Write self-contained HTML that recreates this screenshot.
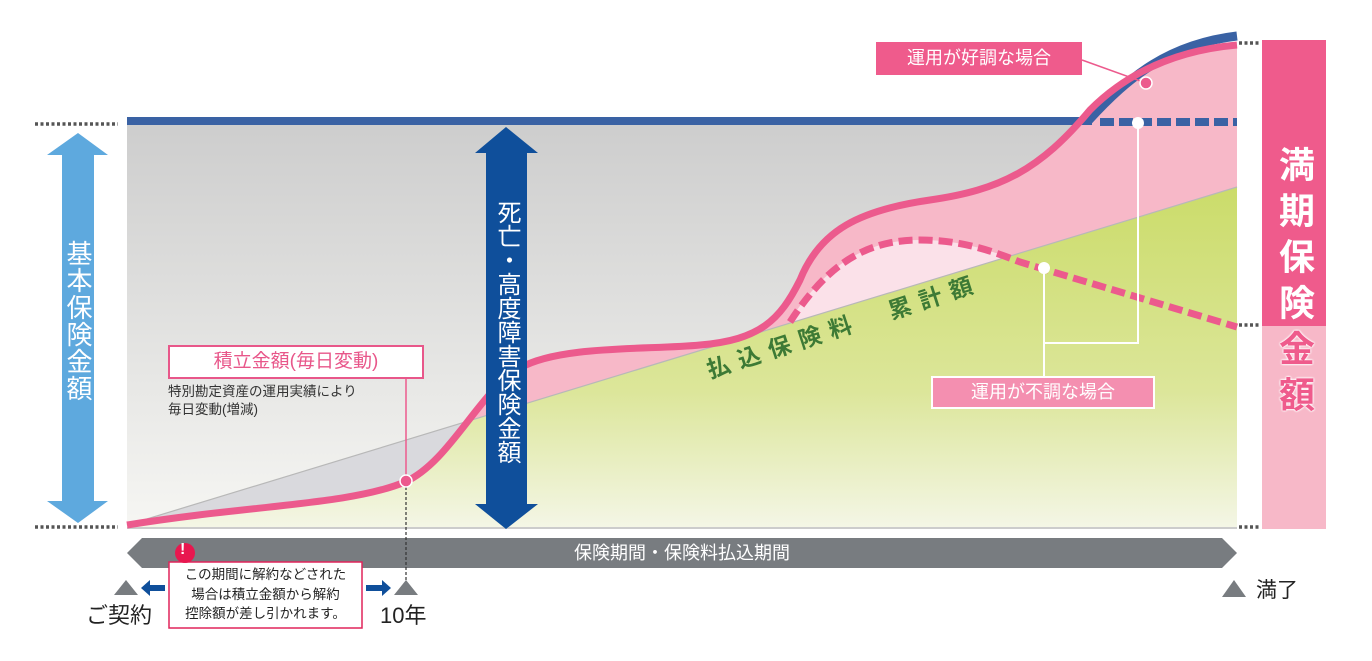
<!DOCTYPE html>
<html><head><meta charset="utf-8"><style>
body{margin:0;background:#fff;}
#w{position:relative;width:1372px;height:661px;overflow:hidden;font-family:"Liberation Sans","Noto Sans CJK JP",sans-serif;}
.t{position:absolute;white-space:nowrap;}
.v{writing-mode:vertical-rl;text-orientation:upright;}
</style></head><body><div id="w">
<svg width="1372" height="661" style="position:absolute;left:0;top:0">
<defs>
<linearGradient id="bg" x1="0" y1="0" x2="0" y2="1"><stop offset="0" stop-color="#cdcdcd"/><stop offset="1" stop-color="#f6f6f3"/></linearGradient>
<linearGradient id="gr" x1="0" y1="0" x2="0" y2="1"><stop offset="0" stop-color="#cbdc6a"/><stop offset="0.6" stop-color="#dce69a"/><stop offset="1" stop-color="#f4f6e6"/></linearGradient>
<clipPath id="below"><path d="M127,525 C250,505 350,505 405,482 C450,462 480,390 520,368 C560,345 650,350 700,345 C760,340 780,320 800,280 C820,230 860,210 930,200 C1000,190 1040,170 1090,110 C1130,70 1180,50 1237,45 L1237,528 L127,528 Z"/></clipPath>
</defs>
<rect x="127" y="120" width="1110" height="408" fill="url(#bg)"/>
<polygon points="127,525 560,393 560,528 127,528" fill="#d9d9dd"/>
<g clip-path="url(#below)">
<rect x="127" y="30" width="1110" height="498" fill="#f7b8c8"/>
<path d="M790,320 C830,260 870,240 920,240 C960,240 990,250 1020,262 L1237,327 L1237,528 L790,528 Z" fill="#fbe1e9"/>
<polygon points="1020,262 1237,327 1237,187" fill="#dcbb88"/>
<polygon points="127,525 1237,187 1237,528 127,528" fill="url(#gr)"/>
</g>
<line x1="127" y1="525" x2="1237" y2="187" stroke="#b8b8b8" stroke-width="1.2"/>
<line x1="127" y1="528" x2="1237" y2="528" stroke="#ccc" stroke-width="2"/>
<line x1="127" y1="121" x2="1092" y2="121" stroke="#3a62a4" stroke-width="8"/>
<path d="M1088,121 C1130,75 1170,44 1237,36" fill="none" stroke="#3a62a4" stroke-width="9"/>
<line x1="1100" y1="122" x2="1237" y2="122" stroke="#3a62a4" stroke-width="8" stroke-dasharray="14,5"/>
<path d="M127,525 C250,505 350,505 405,482 C450,462 480,390 520,368 C560,345 650,350 700,345 C760,340 780,320 800,280 C820,230 860,210 930,200 C1000,190 1040,170 1090,110 C1130,70 1180,50 1237,45" fill="none" stroke="#ec5a8d" stroke-width="7"/>
<path d="M790,322 C830,260 870,240 920,240 C960,240 990,250 1020,262 L1237,327" fill="none" stroke="#ec5a8d" stroke-width="7" stroke-dasharray="14,6"/>
<g stroke="#555" stroke-width="3.5" stroke-dasharray="3,2.5">
<line x1="35" y1="124" x2="118" y2="124"/><line x1="35" y1="527" x2="118" y2="527"/>
<line x1="1239" y1="43" x2="1260" y2="43"/><line x1="1239" y1="325" x2="1260" y2="325"/><line x1="1239" y1="527" x2="1260" y2="527"/>
</g>
<rect x="1262" y="40" width="64" height="286" fill="#ef5b8c"/>
<rect x="1262" y="326" width="64" height="203" fill="#f7b8c8"/>
<polygon points="78,133 108,155 94,155 94,501 108,501 78,523 47,501 62,501 62,155 47,155" fill="#5ea9de"/>
<polygon points="506,127 538,153 527,153 527,504 538,504 506,529 475,504 486,504 486,153 475,153" fill="#0f4f9b"/>
<polygon points="142,538 1222,538 1237,553 1222,568 142,568 127,553" fill="#787c80"/>
<line x1="406" y1="378" x2="406" y2="481" stroke="#ec5a8d" stroke-width="1.5"/>
<line x1="406" y1="487" x2="406" y2="582" stroke="#333" stroke-width="1.2" stroke-dasharray="3,2"/>
<circle cx="406" cy="481" r="6" fill="#ec5a8d" stroke="#fff" stroke-width="1.5"/>
<line x1="1082" y1="60" x2="1146" y2="83" stroke="#ec5a8d" stroke-width="1.5"/>
<circle cx="1146" cy="83" r="6" fill="#ec5a8d" stroke="#fff" stroke-width="1.5"/>
<polyline points="1138,123 1138,343 1044,343" fill="none" stroke="#fff" stroke-width="2"/>
<line x1="1044" y1="268" x2="1044" y2="380" stroke="#fff" stroke-width="2"/>
<circle cx="1138" cy="123" r="6" fill="#fff"/>
<circle cx="1044" cy="268" r="6" fill="#fff"/>
<polygon points="126,580 138,595 114,595" fill="#787c80"/>
<polygon points="406,580 418,595 394,595" fill="#787c80"/>
<polygon points="1234,580 1246,597 1222,597" fill="#787c80"/>
<polygon points="141,588 150,580 150,585 165,585 165,591 150,591 150,596" fill="#0f4f9b"/>
<polygon points="391,588 382,580 382,585 366,585 366,591 382,591 382,596" fill="#0f4f9b"/>
<rect x="169" y="346" width="254" height="32" fill="#fff" stroke="#e8578a" stroke-width="2"/>
<rect x="169" y="562" width="193" height="66" fill="#fff" stroke="#e0245a" stroke-width="1.5"/>
<circle cx="185" cy="553" r="10" fill="#e8174f"/>
<rect x="876" y="42" width="206" height="33" fill="#ef5b8c"/>
<rect x="932" y="377" width="222" height="31" fill="#f48fb0" stroke="#fff" stroke-width="2"/>
</svg>
<div class="t" style="left:180px;top:541px;color:#fff;font-weight:bold;font-size:16px;">!</div>
<div class="t" style="left:169px;top:347px;width:254px;text-align:center;color:#e8578a;font-size:19px;line-height:30px;">積立金額(毎日変動)</div>
<div class="t" style="left:168px;top:383px;color:#333;font-size:13.5px;line-height:18px;">特別勘定資産の運用実績により<br>毎日変動(増減)</div>
<div class="t" style="left:170px;top:565px;width:191px;text-align:center;color:#222;font-size:13.5px;line-height:19.5px;">この期間に解約などされた<br>場合は積立金額から解約<br>控除額が差し引かれます。</div>
<div class="t" style="left:86px;top:598px;color:#222;font-size:22px;">ご契約</div>
<div class="t" style="left:380px;top:598px;color:#222;font-size:22px;">10年</div>
<div class="t" style="left:1256px;top:574px;color:#222;font-size:21px;">満了</div>
<div class="t" style="left:127px;top:540px;width:1110px;text-align:center;color:#fff;font-size:18px;line-height:26px;">保険期間・保険料払込期間</div>
<div class="t" style="left:876px;top:42px;width:206px;text-align:center;color:#fff;font-size:18px;line-height:33px;">運用が好調な場合</div>
<div class="t" style="left:932px;top:377px;width:222px;text-align:center;color:#fff;font-size:18px;line-height:31px;">運用が不調な場合</div>
<div class="t v" style="left:64px;top:240px;color:#fff;font-size:26px;line-height:28px;letter-spacing:1px;">基本保険金額</div>
<div class="t v" style="left:493px;top:200px;color:#fff;font-size:24px;line-height:26px;">死亡・高度障害保険金額</div>
<div class="t v" style="left:1275px;top:146px;color:#fff;font-size:36px;font-weight:bold;line-height:38px;letter-spacing:10px;">満期保険<span style="color:#ef5b8c;text-shadow:0 0 2px #fff,0 0 2px #fff,0 0 2px #fff;">金額</span></div>
<div class="t" style="left:712px;top:356px;color:#3d7a35;font-size:23px;font-weight:bold;letter-spacing:9px;line-height:28px;transform:rotate(-18deg);transform-origin:0 100%;">払込保険料&nbsp;&nbsp;累計額</div>
</div></body></html>
